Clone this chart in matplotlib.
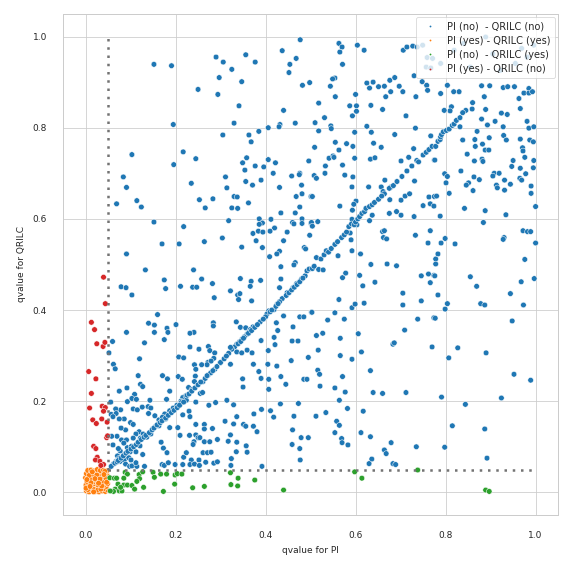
import matplotlib
matplotlib.use("Agg")
import matplotlib.pyplot as plt
import seaborn as sns
import pandas as pd
from matplotlib.lines import Line2D

# ---------------- data (qvalue for PI, qvalue for QRILC) ----------------
no_no = [
    # x 0.05-0.22, y 0.5-1
    (0.152,0.939),(0.191,0.936),(0.195,0.807),(0.217,0.747),(0.103,0.741),(0.196,0.719),
    (0.084,0.692),(0.091,0.669),(0.069,0.633),(0.114,0.640),(0.124,0.626),(0.152,0.593),
    (0.218,0.583),(0.170,0.545),(0.208,0.545),(0.091,0.523),
    # x 0.22-0.5, y 0.5-1
    (0.477,0.993),(0.437,0.969),(0.290,0.955),(0.356,0.960),(0.306,0.944),(0.377,0.944),
    (0.468,0.952),(0.454,0.939),(0.325,0.928),(0.452,0.921),(0.297,0.910),(0.347,0.901),
    (0.482,0.893),(0.498,0.899),(0.250,0.884),(0.294,0.873),(0.341,0.848),(0.440,0.838),
    (0.330,0.810),(0.432,0.807),(0.430,0.802),(0.466,0.810),(0.406,0.800),(0.385,0.792),
    (0.305,0.784),(0.363,0.784),(0.368,0.769),(0.245,0.732),(0.358,0.734),(0.349,0.723),
    (0.406,0.730),(0.422,0.723),(0.496,0.727),(0.377,0.716),(0.396,0.714),(0.354,0.707),
    (0.417,0.700),(0.476,0.700),(0.475,0.697),(0.458,0.694),(0.311,0.692),(0.390,0.685),
    (0.235,0.678),(0.356,0.682),(0.371,0.674),(0.480,0.674),(0.314,0.668),(0.431,0.669),
    (0.481,0.655),(0.468,0.649),(0.501,0.649),(0.330,0.649),(0.337,0.648),(0.253,0.642),
    (0.283,0.644),(0.266,0.624),(0.325,0.624),(0.338,0.623),(0.362,0.635),(0.476,0.626),
    (0.434,0.613),(0.466,0.613),(0.481,0.600),(0.386,0.600),(0.412,0.599),(0.318,0.596),
    (0.393,0.591),(0.460,0.592),(0.463,0.589),(0.481,0.590),(0.501,0.590),(0.386,0.588),
    (0.420,0.580),(0.372,0.568),(0.384,0.573),(0.394,0.571),(0.410,0.573),(0.448,0.571),
    (0.498,0.564),(0.264,0.550),(0.304,0.558),(0.379,0.552),(0.440,0.552),(0.347,0.538),
    (0.393,0.537),(0.486,0.537),(0.489,0.534),(0.431,0.529),(0.425,0.523),(0.409,0.517),
    (0.466,0.504),
    # x 0.5-0.78, y 0.5-1
    (0.563,0.985),(0.570,0.977),(0.565,0.966),(0.604,0.981),(0.619,0.970),(0.706,0.970),
    (0.571,0.939),(0.554,0.909),(0.549,0.907),(0.544,0.891),(0.555,0.868),(0.625,0.898),
    (0.639,0.900),(0.631,0.887),(0.651,0.890),(0.664,0.891),(0.676,0.904),(0.687,0.910),
    (0.678,0.879),(0.697,0.891),(0.705,0.879),(0.667,0.868),(0.734,0.868),(0.758,0.893),
    (0.760,0.882),(0.600,0.873),(0.518,0.854),(0.587,0.848),(0.602,0.848),(0.634,0.849),
    (0.602,0.836),(0.593,0.826),(0.660,0.840),(0.531,0.822),(0.712,0.826),(0.510,0.811),
    (0.545,0.804),(0.546,0.798),(0.625,0.803),(0.518,0.793),(0.733,0.799),(0.598,0.790),
    (0.635,0.790),(0.687,0.785),(0.767,0.782),(0.555,0.768),(0.580,0.765),(0.640,0.766),
    (0.594,0.759),(0.509,0.757),(0.657,0.757),(0.563,0.751),(0.729,0.754),(0.541,0.733),
    (0.550,0.738),(0.552,0.735),(0.598,0.733),(0.633,0.731),(0.643,0.734),(0.701,0.727),
    (0.718,0.735),(0.775,0.729),(0.571,0.718),(0.533,0.716),(0.532,0.700),(0.508,0.695),
    (0.513,0.689),(0.576,0.696),(0.594,0.692),(0.665,0.685),(0.731,0.683),(0.592,0.670),
    (0.629,0.670),(0.657,0.670),(0.679,0.670),(0.661,0.660),(0.664,0.655),(0.710,0.650),
    (0.720,0.655),(0.676,0.642),(0.701,0.641),(0.763,0.648),(0.775,0.649),(0.504,0.649),
    (0.601,0.639),(0.596,0.632),(0.565,0.628),(0.593,0.619),(0.637,0.608),(0.675,0.612),
    (0.691,0.616),(0.701,0.608),(0.730,0.605),(0.750,0.629),(0.766,0.633),(0.592,0.599),
    (0.631,0.596),(0.502,0.592),(0.516,0.594),(0.504,0.584),(0.603,0.587),(0.660,0.572),
    (0.664,0.574),(0.662,0.559),(0.669,0.556),(0.588,0.569),(0.590,0.554),(0.561,0.519),
    (0.592,0.530),(0.611,0.523),(0.733,0.564),(0.766,0.574),(0.761,0.547),
    # behind the legend
    (0.714,0.977),(0.727,0.979),(0.737,0.977),(0.749,0.981),(0.759,0.954),(0.771,0.952),
    (0.757,0.933),(0.767,0.931),(0.730,0.914),(0.748,0.901),(0.889,0.999),(0.819,0.970),
    (0.969,0.974),(0.996,0.981),(0.981,0.955),(0.955,0.941),(0.789,0.941),(0.855,0.933),
    (0.922,0.926),(0.840,0.985),(0.905,0.962),
    # x 0.78-1, y 0.5-0.9
    (0.789,0.875),(0.804,0.893),(0.818,0.879),(0.830,0.879),(0.880,0.892),(0.898,0.892),
    (0.928,0.888),(0.938,0.890),(0.953,0.890),(0.985,0.886),(0.974,0.876),(0.985,0.876),
    (0.993,0.879),(0.886,0.868),(0.963,0.864),(0.860,0.855),(0.813,0.846),(0.810,0.837),
    (0.797,0.838),(0.845,0.838),(0.838,0.833),(0.859,0.841),(0.889,0.840),(0.966,0.842),
    (0.924,0.832),(0.937,0.829),(0.880,0.819),(0.910,0.814),(0.981,0.814),(0.893,0.806),
    (0.928,0.802),(0.985,0.799),(0.996,0.802),(0.832,0.802),(0.870,0.792),(0.929,0.783),
    (0.838,0.773),(0.865,0.774),(0.897,0.778),(0.935,0.773),(0.966,0.775),(0.987,0.773),
    (0.995,0.769),(0.866,0.759),(0.882,0.764),(0.888,0.751),(0.896,0.751),(0.971,0.756),
    (0.972,0.749),(0.848,0.742),(0.976,0.735),(0.881,0.731),(0.883,0.726),(0.864,0.727),
    (0.950,0.728),(0.776,0.729),(0.996,0.728),(0.947,0.715),(0.966,0.711),(0.995,0.712),
    (0.834,0.705),(0.908,0.700),(0.905,0.694),(0.919,0.700),(0.978,0.699),(0.798,0.699),
    (0.804,0.693),(0.863,0.692),(0.875,0.686),(0.965,0.689),(0.969,0.685),(0.931,0.685),
    (0.801,0.679),(0.851,0.679),(0.846,0.674),(0.944,0.676),(0.913,0.674),(0.915,0.668),
    (0.990,0.672),(0.861,0.662),(0.931,0.663),(0.990,0.656),(0.808,0.656),(0.780,0.650),
    (1.000,0.627),(0.774,0.628),(0.842,0.623),(0.888,0.618),(0.788,0.606),(0.934,0.609),
    (0.884,0.592),(0.972,0.574),(0.982,0.572),(0.989,0.572),(0.930,0.559),(0.928,0.555),
    (0.799,0.557),(0.790,0.547),(0.821,0.545),(1.000,0.547),(0.783,0.523),(0.778,0.512),
    (0.976,0.511),
    # x 0.05-0.22, y 0.05-0.5
    (0.133,0.488),(0.175,0.466),(0.178,0.447),(0.211,0.452),(0.079,0.451),(0.090,0.449),
    (0.103,0.433),(0.160,0.390),(0.140,0.371),(0.153,0.367),(0.091,0.351),(0.153,0.351),
    (0.181,0.360),(0.183,0.351),(0.201,0.368),(0.060,0.331),(0.131,0.328),(0.175,0.335),
    (0.207,0.297),(0.218,0.295),(0.120,0.293),(0.062,0.281),(0.066,0.271),(0.052,0.306),
    (0.117,0.256),(0.171,0.256),(0.182,0.249),(0.206,0.254),(0.215,0.248),(0.122,0.237),
    (0.127,0.232),(0.075,0.222),(0.092,0.229),(0.109,0.215),(0.187,0.222),(0.216,0.208),
    (0.223,0.212),(0.143,0.202),(0.180,0.204),(0.212,0.200),(0.056,0.198),(0.093,0.199),
    (0.103,0.206),(0.113,0.204),(0.126,0.187),(0.139,0.188),(0.106,0.183),(0.115,0.181),
    (0.145,0.185),(0.078,0.181),(0.067,0.183),(0.176,0.172),(0.163,0.159),(0.178,0.161),
    (0.171,0.165),(0.187,0.179),(0.195,0.185),(0.203,0.191),(0.213,0.197),(0.224,0.202),
    (0.057,0.171),(0.068,0.173),(0.061,0.166),(0.086,0.161),(0.140,0.173),(0.154,0.168),
    (0.216,0.170),(0.075,0.161),(0.100,0.153),(0.106,0.149),(0.089,0.137),(0.079,0.141),
    (0.119,0.133),(0.128,0.128),(0.145,0.128),(0.149,0.139),(0.155,0.144),(0.163,0.146),
    (0.136,0.121),(0.122,0.119),(0.112,0.128),(0.106,0.119),(0.187,0.142),(0.205,0.142),
    (0.210,0.125),(0.070,0.123),(0.058,0.123),(0.080,0.115),(0.091,0.115),(0.061,0.104),
    (0.085,0.108),(0.093,0.098),(0.102,0.101),(0.121,0.102),(0.127,0.083),(0.112,0.089),
    (0.099,0.089),(0.168,0.110),(0.173,0.097),(0.181,0.087),(0.218,0.077),(0.216,0.061),
    (0.085,0.083),(0.071,0.080),(0.075,0.075),(0.068,0.068),(0.062,0.062),(0.057,0.057),
    (0.077,0.068),(0.086,0.071),(0.096,0.076),(0.089,0.062),(0.098,0.057),(0.103,0.058),
    (0.114,0.057),(0.112,0.065),(0.131,0.057),(0.170,0.061),(0.175,0.059),(0.184,0.065),
    (0.199,0.061),(0.077,0.091),(0.073,0.096),(0.101,0.071),
    # diagonal trail 0.05-0.22
    (0.065,0.064),(0.070,0.067),(0.073,0.070),(0.079,0.075),(0.084,0.080),(0.090,0.086),
    (0.094,0.090),(0.101,0.095),(0.107,0.100),(0.113,0.105),(0.117,0.110),(0.124,0.116),
    (0.130,0.121),(0.134,0.125),(0.142,0.131),(0.148,0.137),(0.152,0.141),(0.159,0.148),
    (0.166,0.153),(0.170,0.157),(0.178,0.163),(0.184,0.169),(0.191,0.175),(0.197,0.180),
    (0.204,0.186),(0.209,0.191),(0.218,0.198),
    # x 0.22-0.5, y 0.05-0.5
    (0.240,0.488),(0.258,0.468),(0.238,0.450),(0.247,0.450),(0.282,0.458),(0.286,0.427),
    (0.344,0.469),(0.322,0.442),(0.338,0.433),(0.343,0.436),(0.340,0.423),(0.368,0.463),
    (0.366,0.452),(0.389,0.465),(0.369,0.420),(0.434,0.495),(0.463,0.499),(0.434,0.468),
    (0.431,0.449),(0.448,0.438),(0.461,0.449),(0.469,0.458),(0.480,0.468),(0.488,0.475),
    (0.492,0.486),(0.437,0.425),(0.431,0.418),(0.426,0.413),(0.419,0.401),(0.407,0.398),
    (0.403,0.391),(0.400,0.385),(0.502,0.395),(0.440,0.387),(0.476,0.385),(0.485,0.385),
    (0.424,0.372),(0.427,0.355),(0.461,0.363),(0.388,0.374),(0.335,0.374),(0.344,0.362),
    (0.356,0.361),(0.372,0.363),(0.366,0.357),(0.363,0.352),(0.359,0.347),(0.353,0.341),
    (0.348,0.336),(0.342,0.330),(0.336,0.325),(0.331,0.319),(0.325,0.314),(0.318,0.305),
    (0.322,0.318),(0.336,0.308),(0.347,0.306),(0.359,0.312),(0.370,0.306),(0.284,0.372),
    (0.284,0.365),(0.241,0.351),(0.232,0.349),(0.390,0.333),(0.419,0.340),(0.421,0.324),
    (0.459,0.332),(0.472,0.332),(0.495,0.296),(0.457,0.289),(0.406,0.311),(0.232,0.319),
    (0.252,0.314),(0.273,0.320),(0.276,0.311),(0.287,0.306),(0.285,0.294),(0.272,0.285),
    (0.279,0.288),(0.270,0.280),(0.258,0.280),(0.242,0.280),(0.245,0.270),(0.244,0.255),
    (0.242,0.243),(0.261,0.243),(0.266,0.250),(0.272,0.257),(0.278,0.262),(0.287,0.270),
    (0.299,0.284),(0.322,0.281),(0.373,0.281),(0.405,0.281),(0.425,0.277),(0.385,0.265),
    (0.390,0.250),(0.407,0.248),(0.434,0.254),(0.445,0.237),(0.485,0.248),(0.492,0.248),
    (0.407,0.226),(0.349,0.249),(0.350,0.231),(0.229,0.230),(0.236,0.225),(0.255,0.217),
    (0.260,0.219),(0.245,0.198),(0.314,0.202),(0.329,0.192),(0.274,0.191),(0.289,0.197),
    (0.433,0.194),(0.473,0.195),(0.391,0.182),(0.411,0.179),(0.418,0.165),(0.374,0.172),
    (0.230,0.178),(0.232,0.166),(0.336,0.166),(0.310,0.156),(0.329,0.150),(0.351,0.149),
    (0.356,0.145),(0.373,0.145),(0.381,0.133),(0.463,0.167),(0.460,0.137),(0.245,0.149),
    (0.264,0.149),(0.264,0.139),(0.282,0.140),(0.231,0.125),(0.245,0.126),(0.250,0.120),
    (0.254,0.120),(0.241,0.111),(0.239,0.105),(0.264,0.111),(0.276,0.111),(0.293,0.116),
    (0.317,0.112),(0.322,0.126),(0.336,0.110),(0.357,0.102),(0.479,0.120),(0.495,0.120),
    (0.459,0.105),(0.476,0.096),(0.224,0.087),(0.261,0.087),(0.271,0.087),(0.279,0.088),
    (0.335,0.089),(0.359,0.088),(0.324,0.074),(0.477,0.071),(0.235,0.071),(0.252,0.071),
    (0.267,0.066),(0.285,0.064),(0.293,0.067),(0.232,0.061),(0.242,0.062),(0.253,0.059),
    (0.323,0.059),(0.392,0.057),
    # diagonal trail 0.22-0.5
    (0.226,0.213),(0.230,0.216),(0.236,0.222),(0.243,0.229),(0.250,0.236),(0.256,0.242),
    (0.270,0.256),(0.283,0.267),(0.292,0.276),(0.300,0.285),(0.308,0.293),(0.313,0.299),
    (0.339,0.326),(0.345,0.331),(0.351,0.338),(0.362,0.349),(0.369,0.355),(0.376,0.362),
    (0.382,0.368),(0.395,0.380),(0.410,0.396),(0.414,0.400),(0.423,0.408),(0.428,0.414),
    (0.446,0.432),(0.452,0.438),(0.458,0.444),(0.464,0.450),(0.470,0.456),(0.476,0.462),
    (0.483,0.470),(0.497,0.490),
    # x 0.5-0.78, y 0.05-0.5
    (0.504,0.491),(0.508,0.496),(0.518,0.489),(0.528,0.488),(0.571,0.471),(0.578,0.481),
    (0.609,0.476),(0.634,0.500),(0.670,0.501),(0.691,0.497),(0.616,0.453),(0.643,0.461),
    (0.746,0.475),(0.762,0.479),(0.774,0.476),(0.766,0.460),(0.705,0.437),(0.746,0.420),
    (0.705,0.411),(0.563,0.423),(0.592,0.405),(0.599,0.413),(0.619,0.415),(0.503,0.395),
    (0.554,0.394),(0.538,0.378),(0.575,0.380),(0.738,0.380),(0.774,0.383),(0.513,0.344),
    (0.527,0.349),(0.566,0.338),(0.606,0.348),(0.709,0.356),(0.683,0.325),(0.686,0.328),
    (0.770,0.319),(0.517,0.312),(0.566,0.300),(0.613,0.308),(0.592,0.292),(0.516,0.268),
    (0.520,0.259),(0.571,0.254),(0.633,0.267),(0.521,0.233),(0.554,0.229),(0.577,0.220),
    (0.639,0.219),(0.660,0.217),(0.712,0.219),(0.564,0.202),(0.582,0.184),(0.617,0.178),
    (0.512,0.167),(0.534,0.175),(0.558,0.156),(0.564,0.147),(0.554,0.131),(0.569,0.118),
    (0.570,0.109),(0.583,0.104),(0.612,0.131),(0.633,0.122),(0.679,0.109),(0.664,0.093),
    (0.668,0.085),(0.636,0.073),(0.630,0.063),(0.683,0.063),(0.689,0.061),(0.735,0.100),
    # x 0.78-1, y 0.05-0.5
    (0.778,0.501),(0.776,0.475),(0.783,0.433),(0.855,0.473),(0.869,0.452),(0.968,0.462),
    (0.997,0.469),(0.944,0.436),(0.804,0.414),(0.799,0.402),(0.878,0.414),(0.887,0.411),
    (0.973,0.411),(0.777,0.382),(0.948,0.376),(0.827,0.317),(0.807,0.295),(0.890,0.306),
    (0.952,0.259),(0.989,0.246),(0.791,0.209),(0.924,0.207),(0.844,0.193),(0.815,0.146),
    (0.887,0.139),(0.798,0.099),(0.892,0.075),
    # diagonal trail 0.5-0.85
    (0.513,0.515),(0.523,0.512),(0.530,0.521),(0.535,0.530),(0.540,0.527),(0.546,0.535),
    (0.554,0.544),(0.560,0.550),(0.569,0.559),(0.575,0.565),(0.580,0.571),(0.585,0.583),
    (0.591,0.589),(0.597,0.587),(0.600,0.593),(0.605,0.600),(0.609,0.605),(0.614,0.612),
    (0.620,0.616),(0.623,0.623),(0.631,0.627),(0.637,0.631),(0.642,0.636),(0.651,0.643),
    (0.658,0.650),(0.675,0.667),(0.684,0.673),(0.692,0.682),(0.703,0.693),(0.714,0.705),
    (0.725,0.716),(0.736,0.728),(0.740,0.725),(0.750,0.740),(0.757,0.746),(0.763,0.752),
    (0.770,0.759),(0.778,0.759),(0.783,0.770),(0.788,0.774),(0.789,0.780),(0.791,0.785),
    (0.795,0.791),(0.802,0.794),(0.808,0.797),(0.815,0.805),(0.819,0.808),(0.824,0.816),
    (0.832,0.822),
]

yes_yes = [
    (0.002,0.003),(0.008,0.001),(0.015,0.004),(0.022,0.002),(0.030,0.001),(0.037,0.003),
    (0.044,0.002),(0.048,0.006),(0.004,0.010),(0.011,0.008),(0.018,0.011),(0.026,0.009),
    (0.033,0.012),(0.040,0.008),(0.046,0.013),(0.001,0.016),(0.007,0.018),(0.014,0.015),
    (0.021,0.019),(0.028,0.016),(0.035,0.020),(0.042,0.017),(0.049,0.019),(0.003,0.024),
    (0.010,0.026),(0.017,0.023),(0.024,0.027),(0.031,0.024),(0.038,0.028),(0.045,0.025),
    (0.000,0.032),(0.006,0.034),(0.013,0.031),(0.020,0.035),(0.027,0.032),(0.034,0.036),
    (0.041,0.033),(0.048,0.037),(0.002,0.041),(0.009,0.043),(0.016,0.040),(0.023,0.044),
    (0.030,0.041),(0.037,0.045),(0.044,0.042),(0.005,0.048),(0.012,0.049),(0.019,0.047),
    (0.026,0.050),(0.033,0.048),(0.040,0.049),(0.047,0.047),(0.005,0.006),(0.019,0.006),
    (0.027,0.005),(0.034,0.007),(0.012,0.021),(0.039,0.022),(0.046,0.030),(0.025,0.038),
    (0.008,0.037),(0.032,0.029),(0.015,0.045),(0.043,0.046),(0.001,0.009),(0.036,0.014),
    (0.021,0.030),(0.029,0.020),(0.010,0.013),(0.047,0.022),(0.003,0.028),(0.018,0.001),
    (0.041,0.039),
]

no_yes = [
    (0.054,0.032),(0.064,0.031),(0.069,0.031),(0.088,0.044),(0.093,0.040),(0.085,0.031),
    (0.119,0.039),(0.127,0.045),(0.150,0.044),(0.153,0.033),(0.167,0.040),(0.180,0.040),
    (0.199,0.038),(0.204,0.041),(0.214,0.040),(0.198,0.018),(0.120,0.030),(0.114,0.024),
    (0.072,0.018),(0.085,0.016),(0.093,0.016),(0.103,0.015),(0.129,0.011),(0.109,0.007),
    (0.066,0.007),(0.075,0.003),(0.081,0.003),(0.062,0.002),(0.055,0.003),(0.173,0.002),
    (0.078,0.011),(0.322,0.043),(0.339,0.031),(0.323,0.017),(0.338,0.014),(0.376,0.027),
    (0.264,0.013),(0.238,0.010),(0.440,0.005),(0.598,0.045),(0.614,0.031),(0.738,0.049),
    (0.889,0.005),(0.897,0.002),
]

yes_no = [
    (0.040,0.472),(0.044,0.414),(0.013,0.373),(0.020,0.357),(0.025,0.326),(0.039,0.320),
    (0.043,0.329),(0.007,0.265),(0.023,0.249),(0.013,0.217),(0.009,0.185),(0.037,0.189),
    (0.044,0.186),(0.040,0.178),(0.016,0.159),(0.024,0.151),(0.036,0.161),(0.048,0.154),
    (0.047,0.120),(0.049,0.124),(0.018,0.101),(0.023,0.096),(0.026,0.077),(0.022,0.071),
    (0.032,0.068),(0.040,0.061),(0.034,0.059),
]

labels = ["PI (no)  - QRILC (no)", "PI (yes) - QRILC (yes)",
          "PI (no)  - QRILC (yes)", "PI (yes) - QRILC (no)"]
colors = ["#1f77b4", "#ff7f0e", "#2ca02c", "#d62728"]
ticks = [0.0, 0.2, 0.4, 0.6, 0.8, 1.0]
threshold = 0.05

rows = []
for lab, pts in zip(labels, [no_no, yes_yes, no_yes, yes_no]):
    for x, y in pts:
        rows.append({"qvalue for PI": x, "qvalue for QRILC": y, "group": lab})
df = pd.DataFrame(rows)

# ---------------- plot ----------------
sns.set_theme(style="whitegrid", context="paper")
fig = plt.figure(figsize=(573 / 72, 573 / 72), dpi=72)
ax = fig.add_axes([0.11, 0.101, 0.864, 0.875])

sns.scatterplot(data=df, x="qvalue for PI", y="qvalue for QRILC", hue="group",
                hue_order=labels, palette=colors, s=32, linewidth=0.5,
                edgecolor="white", ax=ax, legend=False)

dots = (0, (1, 2.3))
ax.plot([threshold, threshold], [threshold, 1.0], color="0.45", linestyle=dots, linewidth=2.5)
ax.plot([threshold, 1.0], [threshold, threshold], color="0.45", linestyle=dots, linewidth=2.5)

ax.set_xlim(-0.05, 1.05)
ax.set_ylim(-0.05, 1.05)
ax.set_xticks(ticks)
ax.set_yticks(ticks)
ax.tick_params(labelsize=9, length=0, pad=16)
ax.set_xlabel("qvalue for PI", fontsize=9, labelpad=6)
ax.set_ylabel("qvalue for QRILC", fontsize=9, labelpad=7)

handles = [Line2D([], [], marker="o", linestyle="", markersize=1.8,
                  markeredgewidth=0, color=c) for c in colors]
ax.legend(handles, labels, loc="upper right", fontsize=9.8,
          borderaxespad=0.35, handlelength=2.0, handletextpad=0.8,
          labelspacing=0.45)

fig.savefig("out.png", dpi=72)
